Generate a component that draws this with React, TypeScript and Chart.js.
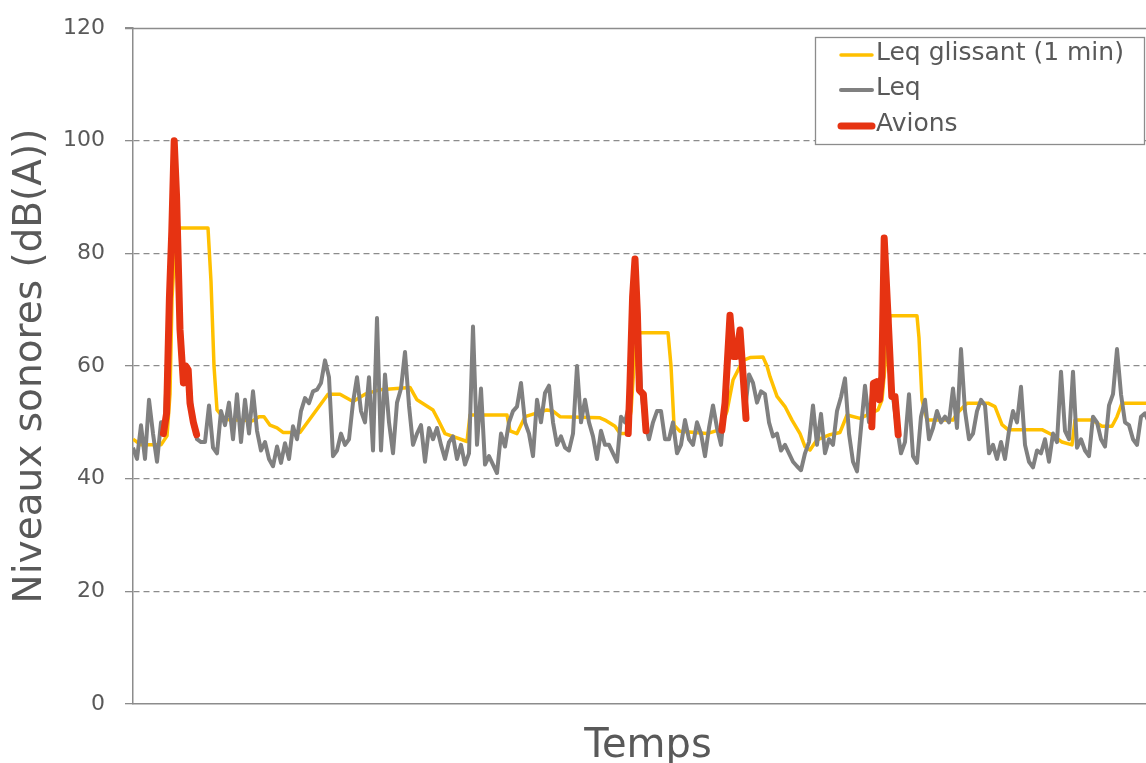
import React, { useEffect, useRef } from 'react';
import { Chart, registerables } from 'chart.js';

Chart.register(...registerables);

const FONT = '"DejaVu Sans", sans-serif';
const TEXT = '#595959';
const AXIS = '#8c8c8c';
const YELLOW = '#FFC000';
const GRAY = '#808080';
const RED = '#E63312';

const SERIES_LABELS = ['Leq glissant (1 min)', 'Leq', 'Avions'];
const Y_TICKS = [0, 20, 40, 60, 80, 100, 120];

// Leq, one value per time step
const LEQ = [
  45.5, 43.5, 49.5, 43.5, 54, 48, 43, 50, 50, 71,
  92, 86, 63, 57, 58, 50, 47, 46.5, 46.5, 53,
  45.5, 44.5, 52, 49.5, 53.5, 47, 55, 46.5, 54, 48,
  55.5, 48.5, 45, 46.5, 43.5, 42.2, 45.7, 42.8, 46.3, 43.5,
  49.3, 47, 52, 54.3, 53.4, 55.5, 55.8, 57, 61, 58,
  44, 45, 48, 46, 47, 53.5, 58, 52, 50, 58,
  45, 68.5, 45, 58.5, 50, 44.5, 53.5, 56, 62.5, 53,
  46, 48, 49.5, 43, 49, 47, 49, 46, 43.5, 46.5,
  47.5, 43.5, 46, 42.5, 44.5, 67, 46, 56, 42.5, 44,
  42.5, 41, 48, 45.7, 50, 52, 52.8, 57, 50, 48,
  44, 54, 50, 55.2, 56.5, 50, 46, 47.5, 45.5, 45,
  48, 60, 50, 54, 50, 47.5, 43.5, 48.5, 46, 46,
  44.5, 43, 51, 50, 53, 74, 72, 56, 50, 47,
  50, 52, 52, 47, 47, 50, 44.5, 46, 50.4, 47,
  46, 50, 48, 44, 49, 53, 49, 46, 53.4, 66,
  62, 63, 62, 52, 58.5, 57, 53.5, 55.5, 55, 50,
  47.5, 48, 45, 46, 44.5, 43, 42.2, 41.5, 44.5, 46.5,
  53, 46, 51.5, 44.5, 47, 46, 52, 54.5, 57.8, 48,
  43, 41.3, 49, 56.5, 50, 56.9, 56, 58, 78, 60,
  54.6, 49, 44.5, 46.5, 55, 44, 42.8, 51, 54, 47,
  49, 52, 50, 51, 50, 56, 49, 63, 52, 47,
  48, 52, 54, 53, 44.5, 46, 43.5, 46.5, 43.5, 48.5,
  52, 50, 56.3, 46, 43, 42, 45, 44.5, 47, 43,
  48, 46.5, 59, 48.5, 47, 59, 45.5, 47, 45, 44,
  51, 50, 47, 45.7, 53, 55, 63, 55, 50, 49.5,
  47, 46, 51, 51.6, 50, 52, 50, 51,
];

// Leq glissant (1 min): time steps and values
const GLISS_T = [
  0, 2, 7, 8.5, 9.25, 9.75, 10.75, 11.75, 18.75, 19.5,
  20.25, 21, 23, 30, 31.5, 32.75, 34.25, 36, 37.5, 41.75,
  48.75, 51.75, 55, 58, 61.75, 69.25, 71, 75, 76.25, 78,
  83.5, 84.25, 93.5, 94.25, 96, 98, 103.5, 105, 106.75, 116.75,
  118, 120.5, 121.75, 123.5, 124.5, 125.25, 126, 126.75, 133.75, 134.5,
  135.25, 136.75, 143.5, 146.75, 148.5, 150, 152.5, 154.25, 157.5, 158.5,
  159.25, 161, 163, 164.75, 166.75, 168, 169.25, 171, 174.25, 176.75,
  178.5, 181.75, 186.25, 187.25, 188.25, 189.25, 196, 196.5, 197.25, 198.5,
  205, 206, 208.5, 213.75, 215.5, 217.25, 218.75, 227.25, 229.75, 232.25,
  234.75, 235.5, 239.75, 242.25, 244.75, 246, 247.25, 257.5,
];
const GLISS_V = [
  47, 46, 46, 47.6, 55, 72, 84, 84.5, 84.5, 75,
  60, 52.2, 50.5, 50.3, 51, 51, 49.5, 49, 48.2, 48.2,
  55, 55, 53.7, 55, 55.8, 56.2, 54, 52.2, 50.5, 48,
  46.6, 51.3, 51.3, 48.5, 48, 51, 52.2, 52, 51, 50.8,
  50.4, 49.3, 48, 48, 52, 60, 65.5, 65.9, 65.9, 60,
  49.5, 48.4, 48, 48.7, 52, 57.5, 61, 61.5, 61.6, 60,
  58.1, 54.6, 52.8, 50.4, 48, 45.7, 45.1, 46.9, 47.8, 48.2,
  51.3, 50.7, 52.2, 54, 62, 68.9, 68.9, 65, 54, 50.4,
  50.4, 51.6, 53.4, 53.4, 52.8, 49.6, 48.7, 48.7, 47.8, 46.5,
  46, 50.4, 50.4, 49.3, 49.3, 51, 53.4, 53.4,
];

// Avions: one segment per aircraft pass
const AVION1_T = [7.6, 8.4, 9.1, 9.7, 10.3, 10.9, 11.75, 12.6, 13.2, 13.8, 14.25, 15.1, 15.9];
const AVION1_V = [48, 51.6, 72, 84, 100, 90, 66.5, 57, 60, 59.3, 53.4, 50, 47.8];
const AVION2_T = [123.8, 124.25, 124.9, 125.5, 126.1, 126.6, 127.6, 128.25];
const AVION2_V = [48, 57, 72.3, 79, 69.3, 55.7, 55, 48.5];
const AVION3_T = [147.2, 148, 149.25, 150.1, 150.9, 151.75, 152.6, 153.25];
const AVION3_V = [48.6, 53.4, 69, 61.7, 61.7, 66.4, 57.5, 50.7];
const AVION4_T = [184.7, 185.1, 185.9, 186.6, 187.2, 187.8, 188.8, 189.7, 190.5, 191.3];
const AVION4_V = [49.2, 56.9, 57.2, 54, 58.1, 82.7, 68.2, 54.6, 54.6, 47.8];

const AVIONS_T = [AVION1_T, AVION2_T, AVION3_T, AVION4_T];
const AVIONS_V = [AVION1_V, AVION2_V, AVION3_V, AVION4_V];

const T_MAX = 257.5;

const framePlugin = {
  id: 'framePlugin',
  beforeDatasetsDraw(chart: any) {
    const { ctx, chartArea } = chart;
    ctx.save();
    ctx.strokeStyle = AXIS;
    ctx.lineWidth = 1.5;
    ctx.beginPath();
    ctx.moveTo(chartArea.left - 8, chartArea.top + 0.5);
    ctx.lineTo(chartArea.right, chartArea.top + 0.5);
    ctx.stroke();
    ctx.restore();
  },
  afterDraw(chart: any) {
    const ctx = chart.ctx;
    const x0 = 815.5;
    const y0 = 37.5;
    const w = 329;
    const h = 107;
    ctx.save();
    ctx.fillStyle = '#ffffff';
    ctx.fillRect(x0, y0, w, h);
    ctx.strokeStyle = AXIS;
    ctx.lineWidth = 1.3;
    ctx.strokeRect(x0, y0, w, h);
    const rows = [55, 90, 126];
    const colors = [YELLOW, GRAY, RED];
    const widths = [3.5, 4, 7];
    ctx.font = `25px ${FONT}`;
    ctx.fillStyle = TEXT;
    ctx.textBaseline = 'middle';
    ctx.textAlign = 'left';
    ctx.lineCap = 'round';
    for (let i = 0; i < 3; i++) {
      ctx.strokeStyle = colors[i];
      ctx.lineWidth = widths[i];
      ctx.beginPath();
      ctx.moveTo(841, rows[i]);
      ctx.lineTo(872, rows[i]);
      ctx.stroke();
      ctx.fillText(SERIES_LABELS[i], 876, rows[i] - 2);
    }
    ctx.restore();
  },
};

export default function App() {
  const ref = useRef<HTMLCanvasElement>(null);

  useEffect(() => {
    document.body.style.margin = '0';
    const leqPoints = LEQ.map((v, i) => ({ x: i, y: v }));
    const glissPoints = GLISS_T.map((t, i) => ({ x: t, y: GLISS_V[i] }));
    const avionPoints: any[] = [];
    AVIONS_T.forEach((seg, k) => {
      seg.forEach((t, i) => avionPoints.push({ x: t, y: AVIONS_V[k][i] }));
      avionPoints.push({ x: seg[seg.length - 1] + 0.01, y: null });
    });

    const chart = new Chart(ref.current!, {
      type: 'line',
      data: {
        datasets: [
          {
            label: SERIES_LABELS[0],
            data: glissPoints,
            borderColor: YELLOW,
            borderWidth: 3.5,
            order: 3,
          },
          {
            label: SERIES_LABELS[1],
            data: leqPoints,
            borderColor: GRAY,
            borderWidth: 4,
            order: 2,
          },
          {
            label: SERIES_LABELS[2],
            data: avionPoints,
            borderColor: RED,
            borderWidth: 7,
            borderCapStyle: 'round',
            spanGaps: false,
            order: 1,
          },
        ] as any,
      },
      options: {
        animation: false,
        responsive: false,
        devicePixelRatio: 1,
        layout: { padding: { top: 28, left: 0, right: 0, bottom: 0 } },
        elements: {
          point: { radius: 0, hoverRadius: 0 },
          line: { tension: 0, borderJoinStyle: 'round', fill: false },
        },
        plugins: {
          legend: { display: false },
          tooltip: { enabled: false },
        },
        scales: {
          x: {
            type: 'linear',
            min: 0,
            max: T_MAX,
            ticks: { display: false },
            grid: { display: false },
            border: { display: true, color: AXIS, width: 1.5 },
            title: {
              display: true,
              text: 'Temps',
              color: TEXT,
              font: { family: FONT, size: 40, lineHeight: 0.8 },
              padding: 0,
            },
            afterFit: (s: any) => {
              s.height = 59;
              s.paddingLeft = 0;
              s.paddingRight = 0;
            },
          },
          y: {
            type: 'linear',
            min: 0,
            max: 120,
            afterBuildTicks: (s: any) => {
              s.ticks = Y_TICKS.map((v) => ({ value: v }));
            },
            ticks: {
              padding: 20,
              color: TEXT,
              font: { family: FONT, size: 22 },
            },
            grid: {
              color: (c: any) =>
                c.tick && (c.tick.value === 0 || c.tick.value === 120) ? 'rgba(0,0,0,0)' : AXIS,
              lineWidth: 1.3,
              tickLength: 8,
              tickColor: AXIS,
              tickWidth: 1.3,
            },
            border: { display: true, color: AXIS, width: 1.5, dash: [6, 4] },
            title: {
              display: true,
              text: 'Niveaux sonores (dB(A))',
              color: TEXT,
              font: { family: FONT, size: 39, lineHeight: 1 },
              padding: { top: 11, bottom: 0 },
            },
            afterFit: (s: any) => {
              s.width = 133;
              s.paddingTop = 0;
              s.paddingBottom = 0;
            },
          },
        },
      } as any,
      plugins: [framePlugin],
    });
    return () => chart.destroy();
  }, []);

  return (
    <div style={{ position: 'fixed', left: 0, top: 0, width: 1146, height: 763, overflow: 'hidden', background: '#fff' }}>
      <canvas ref={ref} width={1163} height={763} style={{ display: 'block' }} />
    </div>
  );
}
